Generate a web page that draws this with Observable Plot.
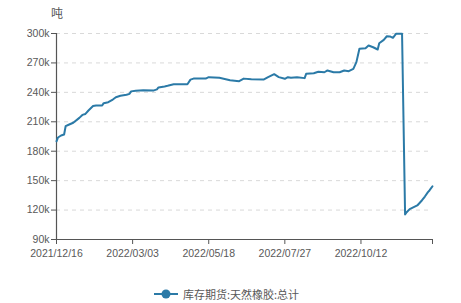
<!DOCTYPE html>
<html>
<head>
<meta charset="utf-8">
<script src="https://cdn.jsdelivr.net/npm/d3@7"></script>
<script src="https://cdn.jsdelivr.net/npm/@observablehq/plot@0.6"></script>
<style>
  body { margin: 0; background: #fff; }
  #wrap { position: relative; width: 461px; height: 303px; overflow: hidden; font-family: "Noto Sans CJK SC", "Noto Sans", sans-serif; }
  #unit { position: absolute; left: 51px; top: 4px; font-size: 12px; color: #555; }
  #legend { position: absolute; left: 154px; top: 288px; display: flex; align-items: center; font-size: 11px; line-height: 12px; color: #595959; }
  #legend svg { margin-right: 5px; }
</style>
</head>
<body>
<div id="wrap">
  <div id="chart"></div>
  <div id="unit">吨</div>
  <div id="legend"></div>
</div>
<script>
const seriesName = "库存期货:天然橡胶:总计";
const unitLabel = "吨";
// trading-day index and inventory (tons)
const dayIndex = [0,1,3,5,6,8,11,15,17,19,21,24,26,30,31,34,37,39,42,46,48,49,52,57,64,66,67,71,73,77,86,88,90,98,100,107,114,120,123,128,136,139,143,146,150,152,154,158,163,164,169,172,176,178,182,186,189,192,195,197,199,203,205,208,211,212,215,217,219,221,223,227,229,230,232,237,240,242,244,245,247];
const inventory = [190000,194000,196000,197000,205500,207000,209000,214000,217000,218000,221500,226000,226600,226600,229000,230000,232700,235000,236500,237500,238500,241000,241600,242200,242000,243000,245000,246000,246700,248300,248300,253000,254000,254000,255500,254800,252400,251400,254000,253400,253000,255500,258500,255500,253800,255500,254800,255500,254500,258900,259500,261000,260500,262300,260500,260500,262300,261600,264000,270800,284400,285000,287800,286000,283700,290100,293500,297200,297000,295600,299700,299700,115500,117800,121000,124700,129800,133800,138300,140000,144300];
const tickIndex = [0,50,100,150,200,247];
const tickLabels = ["2021/12/16","2022/03/03","2022/05/18","2022/07/27","2022/10/12",""];
const yTicks = [90000,120000,150000,180000,210000,240000,270000,300000];

const data = dayIndex.map((d,i) => ({x: d, y: inventory[i]}));
const lineColor = "#2b7aa7";
const textColor = "#595959";

const chart = Plot.plot({
  width: 461,
  height: 282,
  marginLeft: 56,
  marginRight: 29,
  marginTop: 33,
  marginBottom: 43,
  style: { fontFamily: "'Liberation Sans', Arial, sans-serif", fontSize: "10.5px", color: textColor, background: "transparent" },
  x: { domain: [0, 247] },
  y: { domain: [90000, 300000] },
  marks: [
    Plot.ruleY(yTicks.filter(v => v > 90000), { stroke: "#d9d9d9", strokeDasharray: "4,4" }),
    Plot.axisY({ ticks: yTicks, tickFormat: d => (d/1000) + "k", tickSize: 5, tickPadding: 2, stroke: "#555", label: null, fill: textColor }),
    Plot.axisX({ ticks: tickIndex, tickFormat: (d, i) => tickLabels[tickIndex.indexOf(d)], tickSize: 5, tickPadding: 5, stroke: "#555", label: null, fill: textColor }),
    Plot.ruleX([0], { stroke: "#555", strokeWidth: 1.2 }),
    Plot.ruleY([90000], { stroke: "#555", strokeWidth: 1.2 }),
    Plot.line(data, { x: "x", y: "y", stroke: lineColor, strokeWidth: 2 })
  ]
});
document.getElementById("chart").appendChild(chart);

document.getElementById("unit").textContent = unitLabel;
const lg = document.getElementById("legend");
lg.innerHTML = `<svg width="24" height="12"><line x1="0" y1="6" x2="24" y2="6" stroke="${lineColor}" stroke-width="2"/><circle cx="12" cy="6" r="4.5" fill="${lineColor}"/></svg><span>${seriesName}</span>`;
</script>
</body>
</html>
